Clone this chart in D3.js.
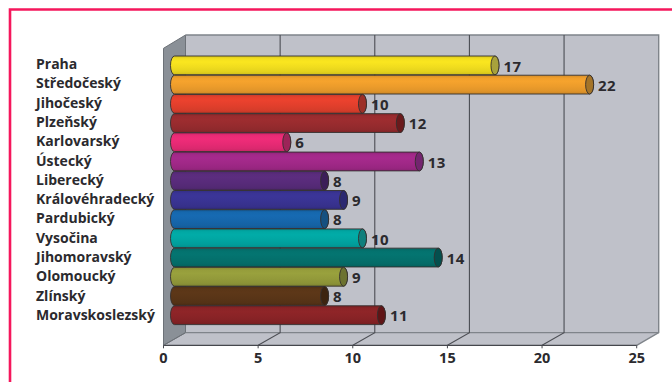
<!DOCTYPE html>
<html>
<head>
<meta charset="utf-8">
<script src="https://cdn.jsdelivr.net/npm/d3@7/dist/d3.min.js"></script>
<style>
html,body{margin:0;padding:0;background:#fff}
svg{display:block}
text{font-family:"Open Sans",Lato,sans-serif;font-weight:700;fill:#2b2a2e}
</style>
</head>
<body>
<svg id="chart" width="672" height="382"></svg>
<script>
const regions = ["Praha","Středočeský","Jihočeský","Plzeňský","Karlovarský","Ústecký","Liberecký","Královéhradecký","Pardubický","Vysočina","Jihomoravský","Olomoucký","Zlínský","Moravskoslezský"];
const counts = [17,22,10,12,6,13,8,9,8,10,14,9,8,11];
const barColors = ["#f0dc1e","#ec9c2b","#e13f2c","#972b2e","#e62a74","#a02887","#582b7a","#393392","#1666ab","#01a5a1","#04706c","#939a3a","#593517","#892326"];
const capColors = ["#a8a23c","#a47428","#9c3028","#6a1a1c","#9c2458","#74246f","#3c1f58","#2b2870","#155080","#0f7f7c","#04504e","#6c7230","#3c2410","#5f1416"];
const xTicks = [0,5,10,15,20,25];

const svg = d3.select("#chart");
const defs = svg.append("defs");

// Chart box: front edge of the floor, and the shift from front to back wall
const x = d3.scaleLinear().domain([0,25]).range([163.5,636.7]);
const floorY = 345.3, wallTop = 35, depthX = 22, depthY = 12.6;
const y = d3.scaleBand().domain(regions).range([56,325]).padding(0);
const barDepth = 9.7, capRx = 4;

// Red frame, open on the right and at the bottom
svg.append("path").attr("d","M10 382V9.5H672").attr("fill","none")
  .attr("stroke","#f5175c").attr("stroke-width",2.6);

// Back wall and floor
svg.append("polygon")
  .attr("points",[[x(0)+depthX,wallTop],[x(25)+depthX,wallTop],[x(25)+depthX,floorY-depthY],[x(25),floorY],[x(0),floorY]].join(" "))
  .attr("fill","#bfc1c9");
// Left wall
svg.append("polygon")
  .attr("points",[[x(0),wallTop+depthY+0.7],[x(0)+depthX,wallTop],[x(0)+depthX,floorY-depthY],[x(0),floorY]].join(" "))
  .attr("fill","#8a9097").attr("stroke","#6d7278").attr("stroke-width",1);

svg.append("path")
  .attr("d",`M${x(0)+depthX} ${wallTop}H${x(25)+depthX}V${floorY-depthY}L${x(25)} ${floorY}`)
  .attr("fill","none").attr("stroke","#7f848a").attr("stroke-width",1.4);
svg.append("line")
  .attr("x1",x(0)+depthX).attr("x2",x(25)+depthX).attr("y1",floorY-depthY).attr("y2",floorY-depthY)
  .attr("stroke","#7f848a").attr("stroke-width",1.2);

// Gridlines climb the floor and run up the back wall
const gridTicks = xTicks.filter(t => t > 0 && t < 25);
svg.selectAll(".grid").data(gridTicks).join("path")
  .attr("class","grid")
  .attr("d",t => `M${x(t)} ${floorY}L${x(t)+depthX} ${floorY-depthY}V${wallTop}`)
  .attr("fill","none").attr("stroke","#4c4e54").attr("stroke-width",1.1);

// Front floor edge and ticks
svg.append("line").attr("x1",x(0)).attr("x2",x(25)).attr("y1",floorY).attr("y2",floorY)
  .attr("stroke","#45474d").attr("stroke-width",1.3);
svg.append("line").attr("x1",x(0)).attr("x2",x(0)+depthX).attr("y1",floorY).attr("y2",floorY-depthY)
  .attr("stroke","#6d7278").attr("stroke-width",1);
svg.selectAll(".tick-mark").data(xTicks).join("line")
  .attr("class","tick-mark")
  .attr("x1",d => x(d)).attr("x2",d => x(d)).attr("y1",floorY).attr("y2",floorY+3)
  .attr("stroke","#45474d");
svg.selectAll(".tick-label").data(xTicks).join("text")
  .attr("class","tick-label")
  .attr("x",d => x(d)).attr("y",363).attr("text-anchor","middle")
  .attr("font-size",14.5).text(d => d);

// Each cylinder gets a soft vertical shading built from its base colour
barColors.forEach((c,i) => {
  const g = defs.append("linearGradient").attr("id","bar"+i)
    .attr("x1",0).attr("x2",0).attr("y1",0).attr("y2",1);
  const base = d3.color(c);
  [[0,base.darker(0.3)],[0.15,base.brighter(0.05)],[0.32,base.brighter(0.12)],
   [0.6,base],[0.85,base.darker(0.15)],[1,base.darker(0.45)]].forEach(([o,col]) => {
    g.append("stop").attr("offset",o).attr("stop-color",col);
  });
});

const rows = regions.map((name,i) => ({name,value:counts[i],i}));

const bar = svg.selectAll(".bar").data(rows).join("g").attr("class","bar");
bar.append("path")
  .attr("d",d => {
    const top = y(d.name), h = y.bandwidth()-0.4, endX = x(d.value)+barDepth, startX = x(0)+11;
    return `M${startX} ${top}H${endX}A${capRx} ${h/2} 0 0 1 ${endX} ${top+h}H${startX}A${capRx} ${h/2} 0 0 1 ${startX} ${top}Z`;
  })
  .attr("fill",d => `url(#bar${d.i})`)
  .attr("stroke","#34302f").attr("stroke-width",0.9);
bar.append("ellipse")
  .attr("cx",d => x(d.value)+barDepth)
  .attr("cy",d => y(d.name)+(y.bandwidth()-0.4)/2)
  .attr("rx",capRx).attr("ry",(y.bandwidth()-0.4)/2)
  .attr("fill",d => capColors[d.i])
  .attr("stroke","#34302f").attr("stroke-width",0.9);

// Value labels just past each cap
svg.selectAll(".value").data(rows).join("text")
  .attr("class","value")
  .attr("x",d => x(d.value)+barDepth+capRx+4.5)
  .attr("y",d => y(d.name)+y.bandwidth()/2+6)
  .attr("font-size",15).attr("letter-spacing",0.4).text(d => d.value);

// Region names
const rowLabel = d3.scalePoint().domain(regions).range([64,315]);
svg.selectAll(".region").data(regions).join("text")
  .attr("class","region")
  .attr("x",36).attr("y",d => rowLabel(d)+5)
  .attr("font-size",14).text(d => d);
</script>
</body>
</html>
